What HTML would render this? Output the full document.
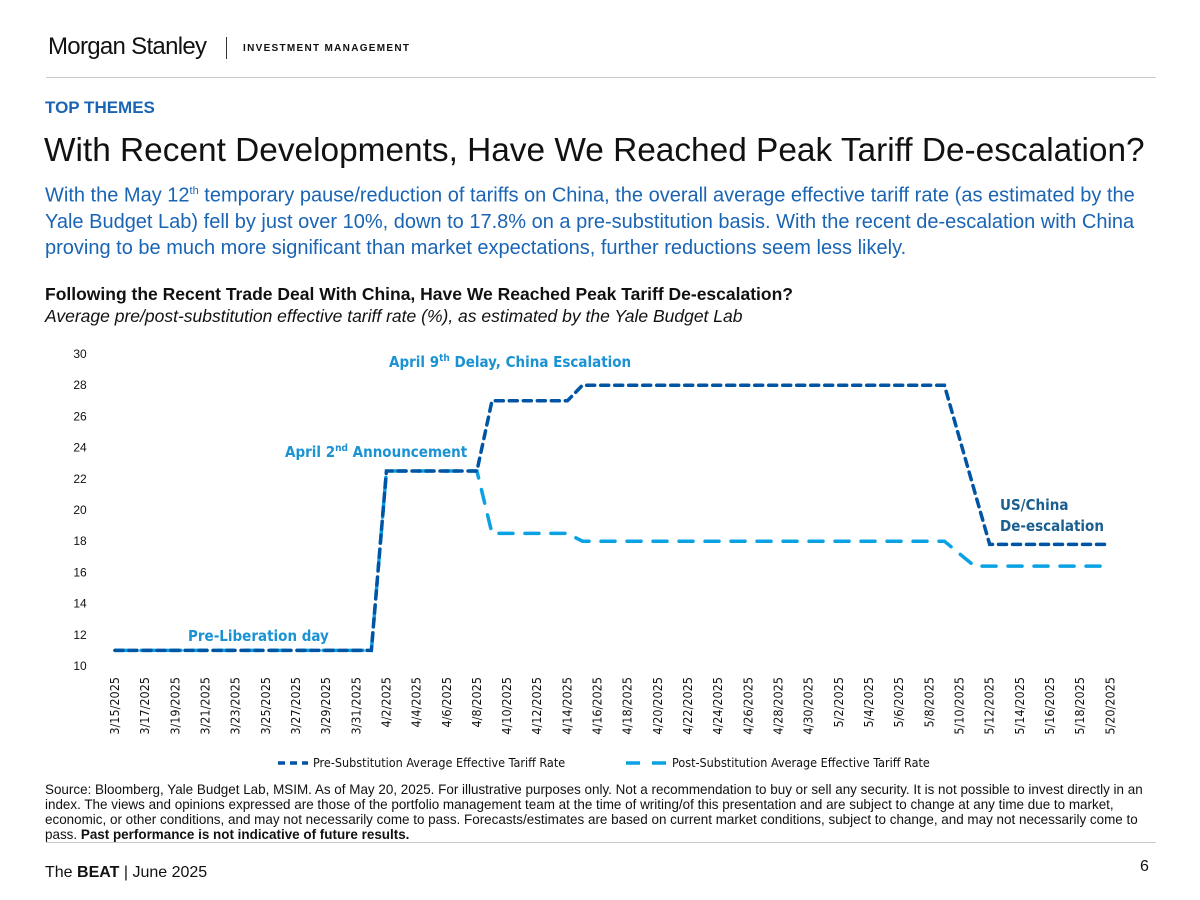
<!DOCTYPE html>
<html><head><meta charset="utf-8">
<style>
body{margin:0;width:1200px;height:900px;background:#fff;font-family:"Liberation Sans",sans-serif;position:relative;overflow:hidden}
.abs{position:absolute}
</style></head><body>
<div class="abs" style="left:48px;top:33px;font-size:24px;color:#111;letter-spacing:-0.7px">Morgan Stanley</div>
<div class="abs" style="left:226px;top:37px;width:1px;height:22px;background:#333"></div>
<div class="abs" style="left:243px;top:43px;font-size:10px;font-weight:bold;letter-spacing:1.3px;color:#111">INVESTMENT MANAGEMENT</div>
<div class="abs" style="left:46px;top:77px;width:1110px;height:1px;background:#ccc"></div>
<div class="abs" style="left:45px;top:98px;font-size:17px;font-weight:bold;color:#1a64b4">TOP THEMES</div>
<div class="abs" style="left:44px;top:132px;font-size:33.4px;color:#111">With Recent Developments, Have We Reached Peak Tariff De-escalation?</div>
<div class="abs" style="left:45px;top:178px;width:1124px;font-size:20px;line-height:26px;color:#1a64b4">With the May 12<sup style="font-size:11px">th</sup> temporary pause/reduction of tariffs on China, the overall average effective tariff rate (as estimated by the Yale Budget Lab) fell by just over 10%, down to 17.8% on a pre-substitution basis. With the recent de-escalation with China proving to be much more significant than market expectations, further reductions seem less likely.</div>
<div class="abs" style="left:45px;top:284px;font-size:17.5px;font-weight:bold;color:#111">Following the Recent Trade Deal With China, Have We Reached Peak Tariff De-escalation?</div>
<div class="abs" style="left:45px;top:306px;font-size:17.5px;font-style:italic;color:#111">Average pre/post-substitution effective tariff rate (%), as estimated by the Yale Budget Lab</div>

<svg class="abs" style="left:0;top:0" width="1200" height="900" id="chart"></svg>

<div class="abs" style="left:45px;top:782px;width:1112px;font-size:13.45px;line-height:15px;color:#111">Source: Bloomberg, Yale Budget Lab, MSIM. As of May 20, 2025. For illustrative purposes only. Not a recommendation to buy or sell any security. It is not possible to invest directly in an index. The views and opinions expressed are those of the portfolio management team at the time of writing/of this presentation and are subject to change at any time due to market, economic, or other conditions, and may not necessarily come to pass.  Forecasts/estimates are based on current market conditions, subject to change, and may not necessarily come to pass. <b>Past performance is not indicative of future results.</b></div>
<div class="abs" style="left:46px;top:842px;width:1110px;height:1px;background:#ccc"></div>
<div class="abs" style="left:45px;top:864px;font-size:16px;color:#111">The <b>BEAT</b> | June 2025</div>
<div class="abs" style="left:1140px;top:858px;font-size:16px;color:#111">6</div>

<script>
const preDays = [0,17,18,24,25,30,31,55,58,66];
const preVals = [11,11,22.5,22.5,27,27,28,28,17.8,17.8];
const postDays = [0,17,18,24,25,30,31,55,57,66];
const postVals = [11,11,22.5,22.5,18.5,18.5,18,18,16.4,16.4];
const yTicks = [10,12,14,16,18,20,22,24,26,28,30];
const xLabels = ["3/15/2025","3/17/2025","3/19/2025","3/21/2025","3/23/2025","3/25/2025","3/27/2025","3/29/2025","3/31/2025","4/2/2025","4/4/2025","4/6/2025","4/8/2025","4/10/2025","4/12/2025","4/14/2025","4/16/2025","4/18/2025","4/20/2025","4/22/2025","4/24/2025","4/26/2025","4/28/2025","4/30/2025","5/2/2025","5/4/2025","5/6/2025","5/8/2025","5/10/2025","5/12/2025","5/14/2025","5/16/2025","5/18/2025","5/20/2025"];

const NS="http://www.w3.org/2000/svg";
const svg=document.getElementById('chart');
const x=d=>115+d*15.08;
const y=v=>666-(v-10)*15.6;
function mk(tag,attrs,txt){const e=document.createElementNS(NS,tag);for(const k in attrs)e.setAttribute(k,attrs[k]);if(txt!=null)e.textContent=txt;svg.appendChild(e);return e;}

yTicks.forEach(t=>{
  const e=mk('text',{x:80,y:y(t)+4,'font-size':12,'text-anchor':'middle',fill:'#111','font-family':'Liberation Sans, sans-serif'},t);
  
  
});
xLabels.forEach((l,i)=>{
  const cx=x(i*2)+4, cy=677;
  const e=mk('text',{x:cx,y:cy,'font-size':12.5,'text-anchor':'end',fill:'#111',transform:`rotate(-90 ${cx} ${cy})`,'font-family':'DejaVu Sans Condensed, Liberation Sans Narrow, sans-serif'},l);
  
  
});
function line(days,vals,color,dash,name){
  const p=mk('polyline',{points:days.map((d,i)=>x(d)+','+y(vals[i])).join(' '),fill:'none',stroke:color,'stroke-width':3.5,'stroke-dasharray':dash,'stroke-linecap':'round'});
  
  
}
line(postDays,postVals,'#0aa2e2','14 12','post-substitution-line');
line(preDays,preVals,'#0054a4','8 6','pre-substitution-line');

function ann(tx,ty,main,sup,rest,color,name){
  const e=mk('text',{x:tx,y:ty,'font-size':15,'font-weight':'bold',fill:color,'font-family':'DejaVu Sans Condensed, Liberation Sans, sans-serif'});
  
  
  e.appendChild(document.createTextNode(main));
  if(sup){const s=document.createElementNS(NS,'tspan');s.setAttribute('font-size',10);s.setAttribute('dy',-6);s.textContent=sup;e.appendChild(s);
    const r=document.createElementNS(NS,'tspan');r.setAttribute('dy',6);r.textContent=rest;e.appendChild(r);}
}
ann(389,367,'April 9','th',' Delay, China Escalation','#1a92d4','annotation-april-9');
ann(285,457,'April 2','nd',' Announcement','#1a92d4','annotation-april-2');
ann(188,641,'Pre-Liberation day',null,null,'#1a92d4','annotation-pre-liberation');
ann(1000,510,'US/China',null,null,'#1a5f8f','annotation-us-china');
ann(1000,531,'De-escalation',null,null,'#1a5f8f','annotation-de-escalation');

const l1=mk('line',{x1:278,y1:763,x2:308,y2:763,stroke:'#0054a4','stroke-width':3.5,'stroke-dasharray':'7 5'});


const t1=mk('text',{x:313,y:767,'font-size':12.5,fill:'#111','font-family':'DejaVu Sans Condensed, Liberation Sans, sans-serif'},'Pre-Substitution Average Effective Tariff Rate');


const l2=mk('line',{x1:626,y1:763,x2:666,y2:763,stroke:'#0aa2e2','stroke-width':3.5,'stroke-dasharray':'14 12'});


const t2=mk('text',{x:672,y:767,'font-size':12.5,fill:'#111','font-family':'DejaVu Sans Condensed, Liberation Sans, sans-serif'},'Post-Substitution Average Effective Tariff Rate');


</script>
</body></html>
